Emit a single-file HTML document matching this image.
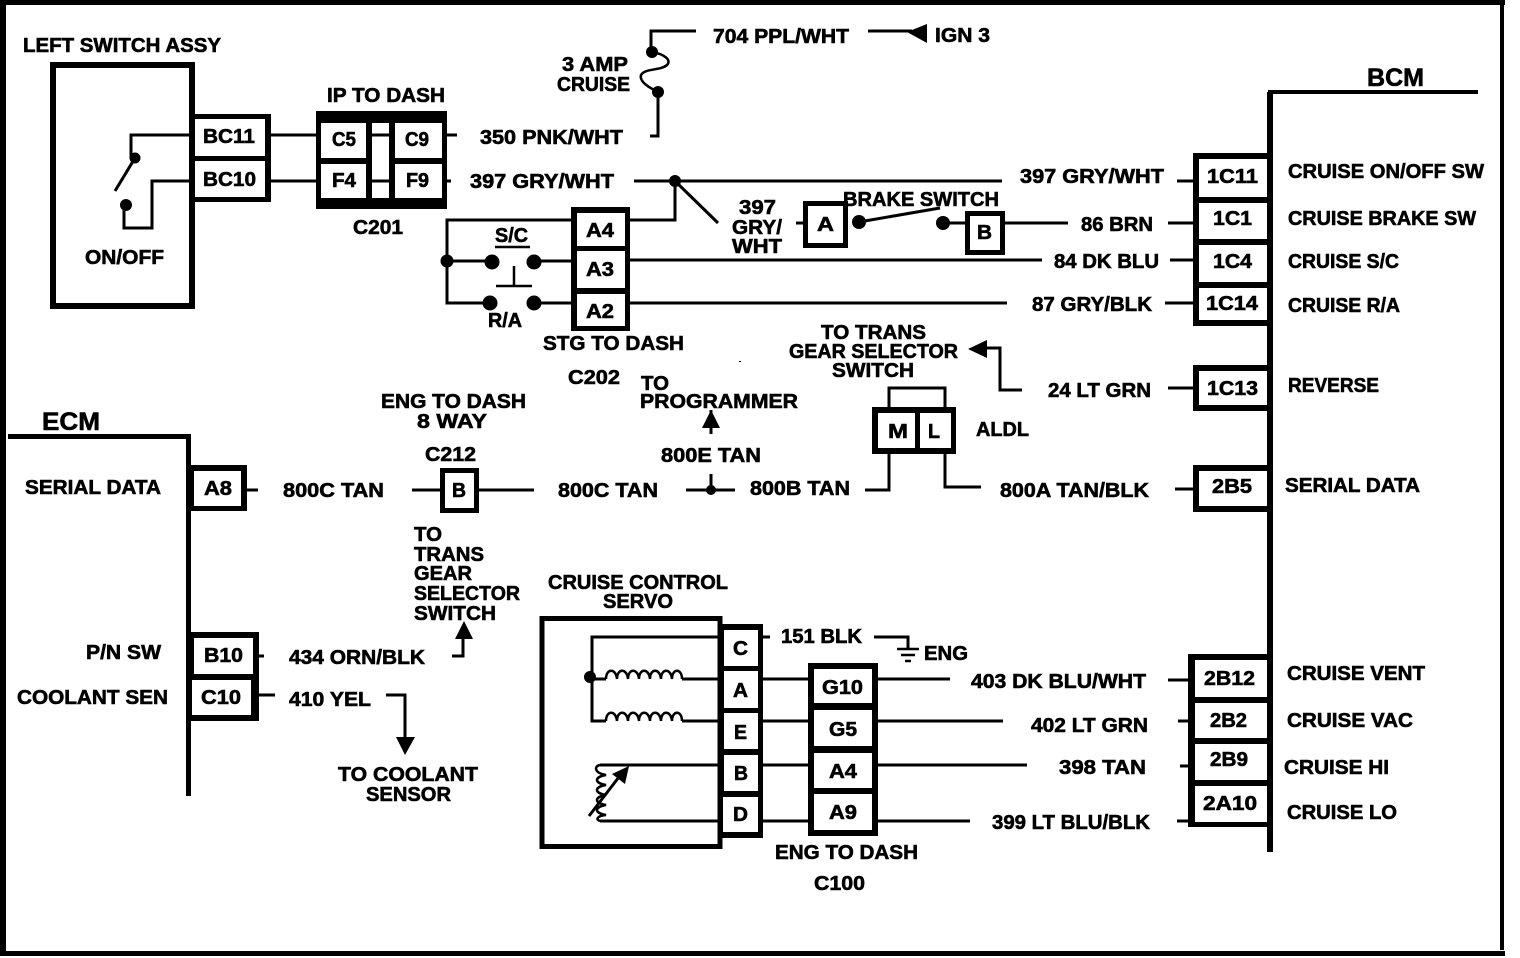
<!DOCTYPE html>
<html><head><meta charset="utf-8"><style>
html,body{margin:0;padding:0;background:#fff;width:1520px;height:958px;overflow:hidden}
svg{display:block}
text{font-family:"Liberation Sans",sans-serif;font-weight:bold;font-size:20px;fill:#000;stroke:#000;stroke-width:.6;transform:translateY(-1px)}
.w{fill:none;stroke:#000;stroke-width:3}
.d{fill:#000;stroke:none}
.c{fill:#fff;stroke:none}
.b{fill:#000;stroke:none}
</style></head><body>
<svg width="1520" height="958" viewBox="0 0 1520 958" xmlns="http://www.w3.org/2000/svg">
<rect width="1520" height="958" fill="#fff"/>
<!-- page border -->
<rect class="b" x="0" y="0" width="1505" height="5"/>
<rect class="b" x="0" y="0" width="6" height="956"/>
<rect class="b" x="0" y="951" width="1505" height="5"/>
<rect class="b" x="1500" y="0" width="4" height="950"/>
<rect class="b" x="739" y="361" width="2" height="1"/>

<!-- left switch -->
<rect x="53" y="65" width="139" height="241" fill="#fff" stroke="#000" stroke-width="6"/>
<rect class="b" x="192" y="114" width="79" height="88"/>
<rect class="c" x="195" y="119" width="70" height="37"/>
<rect class="c" x="195" y="161" width="70" height="36"/>
<path class="w" d="M190 135H131V158M190 181H152V228H124V205"/>
<circle class="d" cx="135" cy="158" r="5.5"/><circle class="d" cx="126" cy="205" r="6"/>
<path class="w" d="M135 158L115 191"/>
<path class="w" d="M271 135H318M271 181H318"/>
<rect class="b" x="316" y="111" width="131" height="98"/>
<rect class="c" x="321" y="123" width="45" height="35"/>
<rect class="c" x="321" y="164" width="45" height="34"/>
<rect class="c" x="372" y="123" width="17" height="75"/>
<rect class="c" x="395" y="123" width="47" height="35"/>
<rect class="c" x="395" y="164" width="47" height="34"/>
<path class="w" d="M372 135H389M372 181H389M447 135H457M447 181H451"/>

<text x="23" y="53" textLength="198" lengthAdjust="spacingAndGlyphs">LEFT SWITCH ASSY</text>
<text x="85" y="265" textLength="79" lengthAdjust="spacingAndGlyphs">ON/OFF</text>
<text x="203" y="144" textLength="52" lengthAdjust="spacingAndGlyphs">BC11</text>
<text x="203" y="187" textLength="53" lengthAdjust="spacingAndGlyphs">BC10</text>
<text x="327" y="103" textLength="118" lengthAdjust="spacingAndGlyphs">IP TO DASH</text>
<text x="332" y="147" textLength="24" lengthAdjust="spacingAndGlyphs">C5</text>
<text x="332" y="188" textLength="24" lengthAdjust="spacingAndGlyphs">F4</text>
<text x="405" y="147" textLength="24" lengthAdjust="spacingAndGlyphs">C9</text>
<text x="406" y="188" textLength="23" lengthAdjust="spacingAndGlyphs">F9</text>
<text x="353" y="235" textLength="50" lengthAdjust="spacingAndGlyphs">C201</text>

<!-- fuse -->
<path class="w" d="M696 31H651V52"/>
<circle class="d" cx="652" cy="52" r="6"/><circle class="d" cx="658" cy="92" r="6"/>
<path fill="none" stroke="#000" stroke-width="2.5" d="M652 52C664 54 672 60 667 65C660 71 645 68 641 75C639 82 650 88 658 92"/>
<path class="w" d="M658 92V136H650"/>
<text x="713" y="44" textLength="136" lengthAdjust="spacingAndGlyphs">704 PPL/WHT</text>
<path class="w" d="M868 31H912"/>
<path class="d" d="M907 32L927 24V43Z"/>
<text x="935" y="43" textLength="55" lengthAdjust="spacingAndGlyphs">IGN 3</text>
<text x="562" y="72" textLength="66" lengthAdjust="spacingAndGlyphs">3 AMP</text>
<text x="557" y="92" textLength="73" lengthAdjust="spacingAndGlyphs">CRUISE</text>
<text x="480" y="145" textLength="143" lengthAdjust="spacingAndGlyphs">350 PNK/WHT</text>
<text x="470" y="189" textLength="144" lengthAdjust="spacingAndGlyphs">397 GRY/WHT</text>

<!-- 397 run -->
<path class="w" d="M634 181H1002"/>
<circle class="d" cx="675" cy="181" r="6"/>
<path class="w" d="M675 181V220H630M675 181L718 223"/>
<text x="739" y="215" textLength="37" lengthAdjust="spacingAndGlyphs">397</text>
<text x="732" y="235" textLength="50" lengthAdjust="spacingAndGlyphs">GRY/</text>
<text x="732" y="254" textLength="50" lengthAdjust="spacingAndGlyphs">WHT</text>

<!-- A4 A3 A2 -->
<rect class="b" x="571" y="207" width="59" height="124"/>
<rect class="c" x="577" y="213" width="48" height="33"/>
<rect class="c" x="577" y="251" width="48" height="37"/>
<rect class="c" x="577" y="294" width="48" height="32"/>
<text x="586" y="238" textLength="28" lengthAdjust="spacingAndGlyphs">A4</text>
<text x="586" y="277" textLength="28" lengthAdjust="spacingAndGlyphs">A3</text>
<text x="586" y="319" textLength="28" lengthAdjust="spacingAndGlyphs">A2</text>
<path class="w" d="M571 220H447V303H490M447 261H492M534 261H571M534 303H571"/>
<circle class="d" cx="447" cy="261" r="6.5"/>
<circle class="d" cx="492" cy="262" r="7.5"/><circle class="d" cx="534" cy="262" r="7.5"/>
<circle class="d" cx="490" cy="303" r="7.5"/><circle class="d" cx="534" cy="303" r="7.5"/>
<path fill="none" stroke="#000" stroke-width="2.5" d="M495 247H530M514 266V286M496 286H532"/>
<text x="495" y="243" textLength="33" lengthAdjust="spacingAndGlyphs">S/C</text>
<text x="488" y="328" textLength="34" lengthAdjust="spacingAndGlyphs">R/A</text>
<text x="543" y="351" textLength="141" lengthAdjust="spacingAndGlyphs">STG TO DASH</text>
<text x="568" y="385" textLength="52" lengthAdjust="spacingAndGlyphs">C202</text>
<path class="w" d="M630 260H1042M630 303H1007"/>

<!-- brake switch -->
<path class="w" d="M796 223H804"/>
<rect x="805.500" y="203.500" width="40" height="42" fill="#fff" stroke="#000" stroke-width="5"/>
<text x="817" y="232" textLength="17" lengthAdjust="spacingAndGlyphs">A</text>
<text x="843" y="207" textLength="156" lengthAdjust="spacingAndGlyphs">BRAKE SWITCH</text>
<circle class="d" cx="859" cy="222" r="7"/><circle class="d" cx="943" cy="223" r="7"/>
<path class="w" d="M859 222L940 208M943 223H966"/>
<rect x="967.500" y="213.500" width="35" height="39" fill="#fff" stroke="#000" stroke-width="5"/>
<text x="977" y="240" textLength="15" lengthAdjust="spacingAndGlyphs">B</text>
<path class="w" d="M1005 223H1068"/>

<!-- BCM -->
<path fill="none" stroke="#000" stroke-width="6" d="M1270 852V92"/>
<path fill="none" stroke="#000" stroke-width="4" d="M1268 92H1478"/>
<text x="1367" y="87" textLength="57" lengthAdjust="spacingAndGlyphs" style="font-size:25px">BCM</text>
<rect class="b" x="1193" y="153" width="77" height="173"/>
<rect class="c" x="1199" y="159" width="68" height="38"/>
<rect class="c" x="1199" y="203" width="68" height="36"/>
<rect class="c" x="1199" y="245" width="68" height="37"/>
<rect class="c" x="1199" y="288" width="68" height="32"/>
<text x="1207" y="184" textLength="51" lengthAdjust="spacingAndGlyphs">1C11</text>
<text x="1213" y="226" textLength="39" lengthAdjust="spacingAndGlyphs">1C1</text>
<text x="1213" y="269" textLength="39" lengthAdjust="spacingAndGlyphs">1C4</text>
<text x="1206" y="311" textLength="52" lengthAdjust="spacingAndGlyphs">1C14</text>
<path class="w" d="M1177 181H1195M1168 223H1195M1170 260H1195M1165 303H1195"/>
<text x="1020" y="184" textLength="144" lengthAdjust="spacingAndGlyphs">397 GRY/WHT</text>
<text x="1081" y="232" textLength="72" lengthAdjust="spacingAndGlyphs">86 BRN</text>
<text x="1054" y="269" textLength="105" lengthAdjust="spacingAndGlyphs">84 DK BLU</text>
<text x="1032" y="312" textLength="120" lengthAdjust="spacingAndGlyphs">87 GRY/BLK</text>
<text x="1288" y="179" textLength="196" lengthAdjust="spacingAndGlyphs">CRUISE ON/OFF SW</text>
<text x="1288" y="226" textLength="188" lengthAdjust="spacingAndGlyphs">CRUISE BRAKE SW</text>
<text x="1288" y="269" textLength="111" lengthAdjust="spacingAndGlyphs">CRUISE S/C</text>
<text x="1288" y="313" textLength="112" lengthAdjust="spacingAndGlyphs">CRUISE R/A</text>

<!-- reverse -->
<rect class="b" x="1193" y="365" width="77" height="46"/>
<rect class="c" x="1199" y="371" width="68" height="34"/>
<text x="1207" y="396" textLength="51" lengthAdjust="spacingAndGlyphs">1C13</text>
<path class="w" d="M1168 388H1195"/>
<text x="1288" y="393" textLength="91" lengthAdjust="spacingAndGlyphs">REVERSE</text>
<text x="1048" y="398" textLength="103" lengthAdjust="spacingAndGlyphs">24 LT GRN</text>
<path class="w" d="M1022 390H1000V348H985"/>
<path class="d" d="M968 349L987 340V358Z"/>
<text x="821" y="340" textLength="105" lengthAdjust="spacingAndGlyphs">TO TRANS</text>
<text x="789" y="359" textLength="169" lengthAdjust="spacingAndGlyphs">GEAR SELECTOR</text>
<text x="832" y="378" textLength="82" lengthAdjust="spacingAndGlyphs">SWITCH</text>

<!-- ALDL -->
<path class="w" d="M889 408V388H945V408"/>
<rect class="b" x="872" y="407" width="84" height="47"/>
<rect class="c" x="878" y="413" width="37" height="35"/>
<rect class="c" x="920" y="413" width="31" height="35"/>
<text x="888" y="439" textLength="20" lengthAdjust="spacingAndGlyphs">M</text>
<text x="928" y="439" textLength="12" lengthAdjust="spacingAndGlyphs">L</text>
<text x="976" y="437" textLength="53" lengthAdjust="spacingAndGlyphs">ALDL</text>
<path class="w" d="M889 454V490H865M945 454V487H981"/>
<text x="750" y="496" textLength="100" lengthAdjust="spacingAndGlyphs">800B TAN</text>
<text x="1000" y="498" textLength="149" lengthAdjust="spacingAndGlyphs">800A TAN/BLK</text>

<!-- serial data BCM -->
<rect class="b" x="1193" y="465" width="77" height="47"/>
<rect class="c" x="1199" y="471" width="68" height="35"/>
<text x="1212" y="494" textLength="40" lengthAdjust="spacingAndGlyphs">2B5</text>
<path class="w" d="M1175 489H1195"/>
<text x="1285" y="493" textLength="135" lengthAdjust="spacingAndGlyphs">SERIAL DATA</text>

<!-- junction -->
<path class="w" d="M686 490H735M711 490V474"/>
<circle class="d" cx="711" cy="490" r="5"/>
<text x="661" y="463" textLength="100" lengthAdjust="spacingAndGlyphs">800E TAN</text>
<path class="w" d="M711 410V434"/>
<path class="d" d="M711 410L702 428H720Z"/>
<text x="641" y="391" textLength="28" lengthAdjust="spacingAndGlyphs">TO</text>
<text x="640" y="409" textLength="158" lengthAdjust="spacingAndGlyphs">PROGRAMMER</text>

<!-- ECM -->
<path fill="none" stroke="#000" stroke-width="5" d="M8 436.500H188.500V796"/>
<text x="42" y="431" textLength="58" lengthAdjust="spacingAndGlyphs" style="font-size:25px">ECM</text>
<rect class="b" x="189" y="465" width="58" height="46"/>
<rect class="c" x="194" y="471" width="47" height="35"/>
<text x="204" y="496" textLength="28" lengthAdjust="spacingAndGlyphs">A8</text>
<text x="25" y="495" textLength="136" lengthAdjust="spacingAndGlyphs">SERIAL DATA</text>
<path class="w" d="M246 490H258"/>
<text x="283" y="498" textLength="101" lengthAdjust="spacingAndGlyphs">800C TAN</text>
<path class="w" d="M412 490H441M479 490H534"/>
<rect x="442.500" y="470.500" width="34" height="40" fill="#fff" stroke="#000" stroke-width="5"/>
<text x="452" y="498" textLength="14" lengthAdjust="spacingAndGlyphs">B</text>
<text x="558" y="498" textLength="100" lengthAdjust="spacingAndGlyphs">800C TAN</text>
<text x="425" y="462" textLength="51" lengthAdjust="spacingAndGlyphs">C212</text>
<text x="381" y="409" textLength="145" lengthAdjust="spacingAndGlyphs">ENG TO DASH</text>
<text x="417" y="429" textLength="70" lengthAdjust="spacingAndGlyphs">8 WAY</text>
<text x="414" y="542" textLength="28" lengthAdjust="spacingAndGlyphs">TO</text>
<text x="414" y="562" textLength="70" lengthAdjust="spacingAndGlyphs">TRANS</text>
<text x="414" y="581" textLength="58" lengthAdjust="spacingAndGlyphs">GEAR</text>
<text x="414" y="601" textLength="106" lengthAdjust="spacingAndGlyphs">SELECTOR</text>
<text x="414" y="621" textLength="82" lengthAdjust="spacingAndGlyphs">SWITCH</text>
<path class="w" d="M463 635V656H452"/>
<path class="d" d="M464 621L455 639H473Z"/>

<rect class="b" x="189" y="632" width="70" height="89"/>
<rect class="c" x="194" y="638" width="59" height="36"/>
<rect class="c" x="192" y="680" width="59" height="35"/>
<text x="204" y="663" textLength="39" lengthAdjust="spacingAndGlyphs">B10</text>
<text x="201" y="705" textLength="40" lengthAdjust="spacingAndGlyphs">C10</text>
<path class="w" d="M258 656H264M258 695H275"/>
<text x="86" y="660" textLength="75" lengthAdjust="spacingAndGlyphs">P/N SW</text>
<text x="17" y="705" textLength="151" lengthAdjust="spacingAndGlyphs">COOLANT SEN</text>
<text x="289" y="665" textLength="136" lengthAdjust="spacingAndGlyphs">434 ORN/BLK</text>
<text x="289" y="707" textLength="82" lengthAdjust="spacingAndGlyphs">410 YEL</text>
<path class="w" d="M386 695H405V740"/>
<path class="d" d="M396 737H415L405 755Z"/>
<text x="338" y="782" textLength="140" lengthAdjust="spacingAndGlyphs">TO COOLANT</text>
<text x="366" y="802" textLength="85" lengthAdjust="spacingAndGlyphs">SENSOR</text>

<!-- servo -->
<text x="548" y="590" textLength="180" lengthAdjust="spacingAndGlyphs">CRUISE CONTROL</text>
<text x="603" y="609" textLength="70" lengthAdjust="spacingAndGlyphs">SERVO</text>
<rect x="542" y="618.500" width="178" height="228" fill="#fff" stroke="#000" stroke-width="5"/>
<rect class="b" x="721" y="624" width="42" height="214"/>
<rect class="c" x="724" y="630" width="34" height="36"/>
<rect class="c" x="724" y="671" width="34" height="37"/>
<rect class="c" x="724" y="713" width="34" height="36"/>
<rect class="c" x="724" y="755" width="34" height="36"/>
<rect class="c" x="723" y="797" width="35" height="35"/>
<text x="733" y="656" textLength="15" lengthAdjust="spacingAndGlyphs">C</text>
<text x="733" y="698" textLength="15" lengthAdjust="spacingAndGlyphs">A</text>
<text x="734" y="740" textLength="13" lengthAdjust="spacingAndGlyphs">E</text>
<text x="734" y="781" textLength="14" lengthAdjust="spacingAndGlyphs">B</text>
<text x="733" y="822" textLength="15" lengthAdjust="spacingAndGlyphs">D</text>
<path class="w" d="M722 637H592V721H606"/>
<circle class="d" cx="590" cy="677" r="6"/>
<path class="w" d="M592 679H606"/>
<g fill="none" stroke="#000" stroke-width="2.5">
<path d="M606 679C606 668 616 668 617 679M617 679C617 668 627 668 628 679M628 679C628 668 638 668 639 679M639 679C639 668 649 668 650 679M650 679C650 668 660 668 661 679M661 679C661 668 671 668 672 679M672 679C672 668 682 668 682 679"/>
<path d="M606 721C606 710 616 710 617 721M617 721C617 710 627 710 628 721M628 721C628 710 638 710 639 721M639 721C639 710 649 710 650 721M650 721C650 710 660 710 661 721M661 721C661 710 671 710 672 721M672 721C672 710 682 710 682 721"/>
</g>
<path class="w" d="M682 679H722M682 721H722M600 765H722M600 821H722"/>
<path fill="none" stroke="#000" stroke-width="2.500" d="M600 765C594 766 594 773 606 775C594 777 594 783 606 785C594 787 594 793 606 795C594 797 594 803 606 805C594 807 594 813 606 815C596 816 596 820 600 821"/>
<path class="w" d="M589 816L622 773"/>
<path class="d" d="M629 766L625 784L612 774Z"/>

<path class="w" d="M763 637H770M874 637H908V649"/>
<text x="781" y="644" textLength="81" lengthAdjust="spacingAndGlyphs">151 BLK</text>
<path fill="none" stroke="#000" stroke-width="2.500" d="M897 649H919M901 655H915M905 661H911"/>
<text x="924" y="661" textLength="44" lengthAdjust="spacingAndGlyphs">ENG</text>
<path class="w" d="M763 679H810M763 721H810M763 765H810M763 821H810"/>
<rect class="b" x="808" y="663" width="70" height="173"/>
<rect class="c" x="814" y="669" width="58" height="34"/>
<rect class="c" x="814" y="710" width="58" height="36"/>
<rect class="c" x="814" y="753" width="58" height="35"/>
<rect class="c" x="814" y="794" width="58" height="36"/>
<text x="822" y="695" textLength="41" lengthAdjust="spacingAndGlyphs">G10</text>
<text x="829" y="737" textLength="28" lengthAdjust="spacingAndGlyphs">G5</text>
<text x="829" y="779" textLength="28" lengthAdjust="spacingAndGlyphs">A4</text>
<text x="829" y="820" textLength="28" lengthAdjust="spacingAndGlyphs">A9</text>
<path class="w" d="M878 679H950M878 721H1003M878 765H1027M878 821H970"/>
<text x="971" y="689" textLength="175" lengthAdjust="spacingAndGlyphs">403 DK BLU/WHT</text>
<text x="1031" y="733" textLength="117" lengthAdjust="spacingAndGlyphs">402 LT GRN</text>
<text x="1059" y="775" textLength="87" lengthAdjust="spacingAndGlyphs">398 TAN</text>
<text x="992" y="830" textLength="158" lengthAdjust="spacingAndGlyphs">399 LT BLU/BLK</text>
<text x="775" y="860" textLength="143" lengthAdjust="spacingAndGlyphs">ENG TO DASH</text>
<text x="814" y="891" textLength="51" lengthAdjust="spacingAndGlyphs">C100</text>

<!-- BCM lower -->
<rect class="b" x="1188" y="654" width="82" height="173"/>
<rect class="c" x="1195" y="660" width="72" height="37"/>
<rect class="c" x="1195" y="703" width="72" height="35"/>
<rect class="c" x="1195" y="744" width="72" height="36"/>
<rect class="c" x="1195" y="786" width="72" height="36"/>
<text x="1204" y="686" textLength="51" lengthAdjust="spacingAndGlyphs">2B12</text>
<text x="1210" y="728" textLength="37" lengthAdjust="spacingAndGlyphs">2B2</text>
<text x="1210" y="767" textLength="38" lengthAdjust="spacingAndGlyphs">2B9</text>
<text x="1203" y="811" textLength="54" lengthAdjust="spacingAndGlyphs">2A10</text>
<path class="w" d="M1168 680H1190M1178 721H1190M1180 766H1190M1177 821H1190"/>
<text x="1287" y="681" textLength="138" lengthAdjust="spacingAndGlyphs">CRUISE  VENT</text>
<text x="1287" y="728" textLength="126" lengthAdjust="spacingAndGlyphs">CRUISE  VAC</text>
<text x="1284" y="775" textLength="105" lengthAdjust="spacingAndGlyphs">CRUISE  HI</text>
<text x="1287" y="820" textLength="110" lengthAdjust="spacingAndGlyphs">CRUISE  LO</text>
</svg>
</body></html>
